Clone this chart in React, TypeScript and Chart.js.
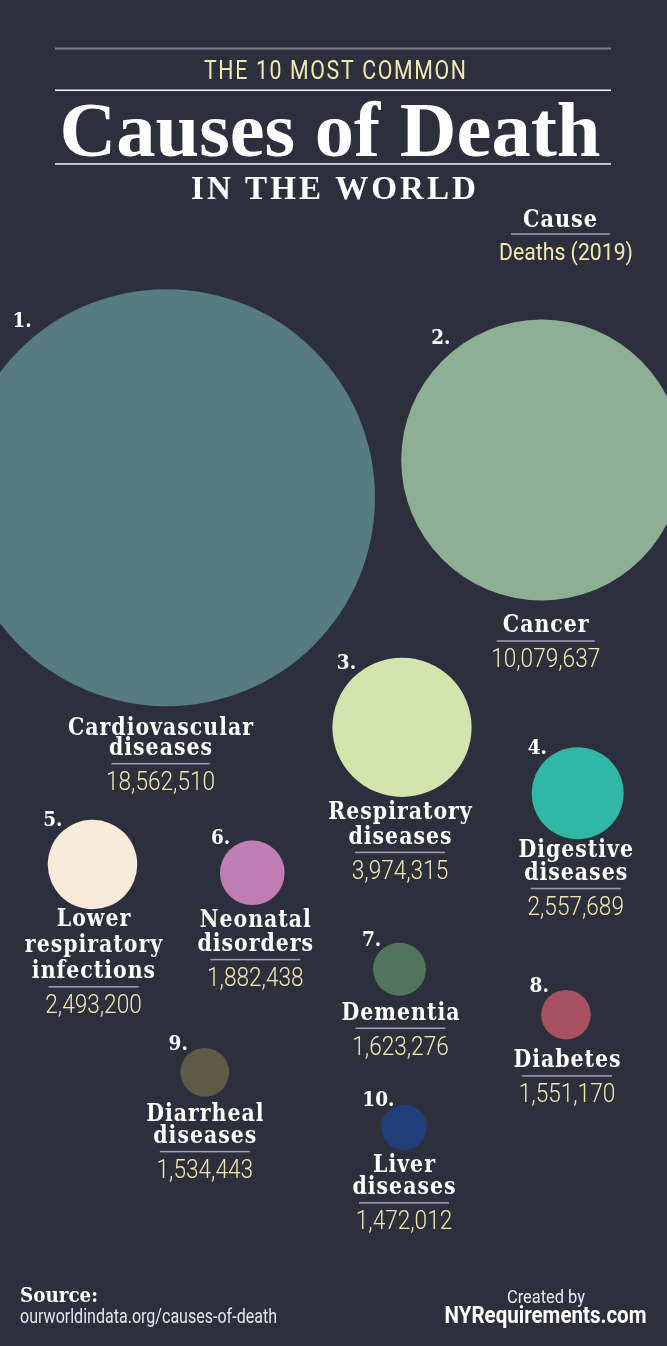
import React, { useEffect, useRef } from 'react';
import { Chart, registerables } from 'chart.js';

Chart.register(...registerables);

// ---------- data ----------
const causes = [
  'Cardiovascular diseases',
  'Cancer',
  'Respiratory diseases',
  'Digestive diseases',
  'Lower respiratory infections',
  'Neonatal disorders',
  'Dementia',
  'Diabetes',
  'Diarrheal diseases',
  'Liver diseases',
];
const deaths = [18562510, 10079637, 3974315, 2557689, 2493200, 1882438, 1623276, 1551170, 1534443, 1472012];
const causeLines = [
  ['Cardiovascular', 'diseases'],
  ['Cancer'],
  ['Respiratory', 'diseases'],
  ['Digestive', 'diseases'],
  ['Lower', 'respiratory', 'infections'],
  ['Neonatal', 'disorders'],
  ['Dementia'],
  ['Diabetes'],
  ['Diarrheal', 'diseases'],
  ['Liver', 'diseases'],
];

// ---------- layout (bubble centres in layout units: x 0..667 across, y 0..1346 down) ----------
const layoutX = [166.5, 541.7, 402, 577.7, 92.5, 252.3, 399.5, 566, 204.8, 404];
const layoutY = [497.7, 460, 727.3, 793.3, 864.5, 872.8, 969.3, 1014.7, 1072.2, 1127.3];
const labelDx = [-6, 4, -2, -2, 1, 3, 1, 1, 0, 0];
const labelDy = [7, 10, 0, -4.5, -5.5, 0, 2, 6, 2, 0];
const labelLeading = [20, 24, 25, 23.3, 26.3, 24, 24, 24, 22.6, 22.3];

// ---------- styles ----------
const BG = '#2e2f3d';
const YELLOW = '#f0e9b0';
const WHITE = '#ffffff';
const RULE = '#a0a1ab';
const colors = ['#577b83', '#8faf95', '#d4e2ab', '#31b7a6', '#f7ebda', '#c07db4', '#52745b', '#a85261', '#5d5b47', '#223e7a'];
const SERIF = '"Liberation Serif", "Times New Roman", serif';
const LABEL_SERIF = '"DejaVu Serif", "Liberation Serif", serif';
const SANS = 'Roboto, "Open Sans", sans-serif';
const LABEL_FONT = `bold 25px ${LABEL_SERIF}`;
const LABEL_LS = 1.2;

const radiusFor = (v: number) => 60 * Math.sqrt(v / 1e6) - 50;

function drawText(
  ctx: CanvasRenderingContext2D,
  text: string,
  x: number,
  y: number,
  font: string,
  color: string,
  align: 'left' | 'center' | 'right' = 'center',
  ls = 0,
  sx = 1,
  fitWidth?: number
) {
  ctx.save();
  ctx.font = font;
  (ctx as any).letterSpacing = ls + 'px';
  ctx.fillStyle = color;
  ctx.textAlign = 'left';
  ctx.textBaseline = 'alphabetic';
  const raw = ctx.measureText(text).width - ls;
  const s = fitWidth ? fitWidth / raw : sx;
  const w = raw * s;
  const left = align === 'center' ? x - w / 2 : align === 'right' ? x - w : x;
  ctx.translate(left, y);
  ctx.scale(s, 1);
  ctx.fillText(text, 0, 0);
  ctx.restore();
  return w;
}

const bgPlugin = {
  id: 'bg',
  beforeDraw(chart: any) {
    const ctx = chart.ctx as CanvasRenderingContext2D;
    ctx.save();
    ctx.fillStyle = BG;
    ctx.fillRect(0, 0, chart.width, chart.height);
    ctx.restore();
  },
};

const textPlugin = {
  id: 'infographicText',
  afterDatasetsDraw(chart: any) {
    const ctx = chart.ctx as CanvasRenderingContext2D;
    const xs = chart.scales.x;
    const ys = chart.scales.y;

    // calibrate label font width: "diseases" ≈ 103px wide
    ctx.save();
    ctx.font = LABEL_FONT;
    (ctx as any).letterSpacing = LABEL_LS + 'px';
    const labelSx = 103 / (ctx.measureText('diseases').width - LABEL_LS);
    ctx.restore();

    // header
    ctx.save();
    ctx.fillStyle = '#7d7e8a';
    ctx.fillRect(55, 47.5, 556, 2);
    ctx.fillStyle = '#f4f4f6';
    ctx.fillRect(55, 89.5, 556, 1.5);
    ctx.fillRect(55, 163.2, 556, 1.5);
    ctx.restore();
    drawText(ctx, 'THE 10 MOST COMMON', 335, 79.3, `400 26px ${SANS}`, YELLOW, 'center', 2, 1, 262);
    drawText(ctx, 'Causes of Death', 330, 156, `bold 79px ${SERIF}`, WHITE, 'center', 0, 1, 541);
    drawText(ctx, 'IN THE WORLD', 333.5, 199.3, `bold 33px ${SERIF}`, WHITE, 'center', 3, 1, 285);

    // legend key
    drawText(ctx, 'Cause', 560, 226.6, LABEL_FONT, WHITE, 'center', LABEL_LS, 1, 74);
    ctx.save();
    ctx.fillStyle = RULE;
    ctx.fillRect(511, 233.3, 99, 1.5);
    ctx.restore();
    drawText(ctx, 'Deaths (2019)', 566, 259.5, `400 24px ${SANS}`, YELLOW, 'center', 0, 1, 134);

    // bubble labels
    causes.forEach((_, i) => {
      const cx = xs.getPixelForValue(layoutX[i]);
      const cy = ys.getPixelForValue(layoutY[i]);
      const r = radiusFor(deaths[i]);
      drawText(ctx, `${i + 1}.`, cx - (0.64 * r + 11), cy - (0.805 * r + 10) + 7.5, `bold 21px ${LABEL_SERIF}`, WHITE, 'center', 0, 0.88);
      const lx = cx + labelDx[i];
      let y = cy + r + 22 + labelDy[i];
      const lines = causeLines[i];
      lines.forEach((line, k) => {
        drawText(ctx, line, lx, y, LABEL_FONT, WHITE, 'center', LABEL_LS, labelSx);
        if (k < lines.length - 1) y += labelLeading[i];
      });
      const uy = y + 8.5;
      ctx.save();
      ctx.font = `300 26px ${SANS}`;
      const vw = ctx.measureText(deaths[i].toLocaleString('en-US')).width * 0.87;
      ctx.restore();
      const uw = Math.max(90, vw * 0.9);
      ctx.save();
      ctx.fillStyle = RULE;
      ctx.fillRect(lx - uw / 2, uy - 0.75, uw, 1.5);
      ctx.restore();
      drawText(ctx, deaths[i].toLocaleString('en-US'), lx, uy + 26.5, `300 26px ${SANS}`, YELLOW, 'center', 0, 0.87);
    });

    // footer
    drawText(ctx, 'Source:', 20, 1302, `bold 20px ${LABEL_SERIF}`, WHITE, 'left', 0, 1, 78);
    drawText(ctx, 'ourworldindata.org/causes-of-death', 20, 1323, `400 20px ${SANS}`, '#e6e6ea', 'left', 0, 1, 257);
    drawText(ctx, 'Created by', 546, 1303, `400 19px ${SANS}`, '#ececf0', 'center', 0, 1, 78);
    drawText(ctx, 'NYRequirements.com', 545.5, 1322.7, `bold 23px ${SANS}`, WHITE, 'center', 0, 1, 202);
  },
};

export default function App() {
  const ref = useRef<HTMLCanvasElement>(null);
  useEffect(() => {
    document.body.style.margin = '0';
    document.body.style.background = BG;
    const canvas = ref.current!;
    const chart = new Chart(canvas, {
      type: 'bubble',
      data: {
        datasets: [
          {
            label: 'Deaths (2019)',
            data: causes.map((_, i) => ({ x: layoutX[i], y: layoutY[i], r: radiusFor(deaths[i]) })),
            backgroundColor: colors,
            borderWidth: 0,
            hoverRadius: 0,
            clip: false as any,
          },
        ],
      },
      options: {
        responsive: false,
        animation: false,
        devicePixelRatio: 1,
        events: [],
        layout: { padding: 0, autoPadding: false },
        scales: {
          x: { type: 'linear', min: 0, max: 667, display: false },
          y: { type: 'linear', min: 0, max: 1346, reverse: true, display: false },
        },
        plugins: { legend: { display: false }, tooltip: { enabled: false }, title: { display: false } },
      },
      plugins: [bgPlugin, textPlugin],
    });
    return () => chart.destroy();
  }, []);
  return (
    <div style={{ width: 667, height: 1346, background: BG }}>
      <canvas ref={ref} width={667} height={1346} style={{ display: 'block', width: 667, height: 1346 }} />
    </div>
  );
}
